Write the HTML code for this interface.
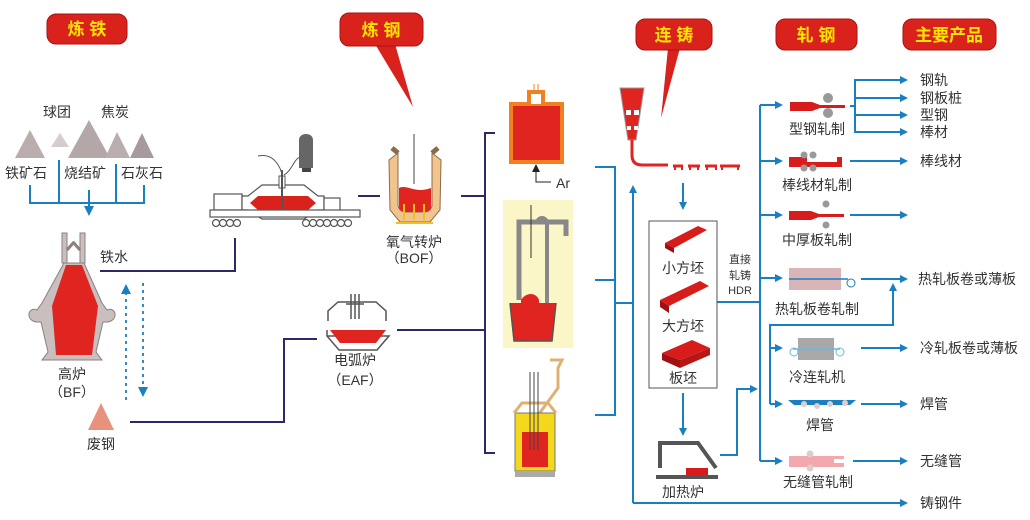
<!DOCTYPE html>
<html><head><meta charset="utf-8"><style>
html,body{margin:0;padding:0;background:#fff;}
svg{display:block;}
text{font-family:"Liberation Sans","Noto Sans CJK SC",sans-serif;fill:#333;}
.t{font-size:14px;}
.h{font-size:17px;font-weight:bold;fill:#ffe600;}
</style></head><body>
<svg width="1030" height="520" viewBox="0 0 1030 520" xmlns="http://www.w3.org/2000/svg">
<defs>
<marker id="a" markerWidth="8" markerHeight="8" refX="6" refY="4" orient="auto" markerUnits="userSpaceOnUse"><path d="M0,0 L8,4 L0,8 Z" fill="#1a7fc1"/></marker>
<marker id="ab" markerWidth="10" markerHeight="10" refX="8" refY="5" orient="auto" markerUnits="userSpaceOnUse"><path d="M0,0 L10,5 L0,10 Z" fill="#1a7fc1"/></marker>
</defs>
<rect width="1030" height="520" fill="#fff"/>

<!-- headers -->
<rect x="47" y="14" width="80" height="30" rx="9" fill="#d9221c" stroke="#a11" />
<text x="87" y="35" class="h" text-anchor="middle">炼 铁</text>
<path d="M375,44 L413,107 L395,44 Z" fill="#d9221c"/>
<rect x="340" y="13" width="83" height="33" rx="9" fill="#d9221c" stroke="#a11"/>
<text x="381" y="36" class="h" text-anchor="middle">炼 钢</text>
<path d="M668,48 L661,118 L680,48 Z" fill="#d9221c"/>
<rect x="636" y="19" width="76" height="31" rx="9" fill="#d9221c" stroke="#a11"/>
<text x="674" y="41" class="h" text-anchor="middle">连 铸</text>
<rect x="776" y="19" width="81" height="31" rx="9" fill="#d9221c" stroke="#a11"/>
<text x="816" y="41" class="h" text-anchor="middle">轧 钢</text>
<rect x="903" y="19" width="93" height="31" rx="9" fill="#d9221c" stroke="#a11"/>
<text x="949" y="41" class="h" text-anchor="middle">主要产品</text>

<!-- raw materials -->
<text x="43" y="117" class="t">球团</text>
<text x="101" y="117" class="t">焦炭</text>
<polygon points="15,158 30,130 45,158" fill="#b9adad"/>
<polygon points="51,147 60,133 69,147" fill="#d5cccc"/>
<polygon points="68,158 89,120 110,158" fill="#b3a7a8"/>
<polygon points="105,158 117,132 130,158" fill="#b9adad"/>
<polygon points="130,158 142,133 154,158" fill="#a79a9c"/>
<text x="5" y="178" class="t">铁矿石</text>
<text x="64" y="178" class="t">烧结矿</text>
<text x="121" y="178" class="t">石灰石</text>
<g stroke="#1a7fc1" stroke-width="2" fill="none">
<path d="M30,185 V203 H144 V185 M59,160 V203 M116,164 V203"/>
<path d="M89,190 V214" marker-end="url(#ab)"/>
</g>

<!-- blast furnace -->
<g fill="#c9bfbf" stroke="#8a8080" stroke-width="1">
<path d="M62,233 h5 v30 h-5z M80,233 h5 v30 h-5z"/>
<path d="M67,250 l7,-8 M80,250 l-7,-8" stroke-width="3"/>
<path d="M64,263 h20 l18,40 l5,7 c9,-4 12,10 1,12 l-5,0 l-7,30 l6,8 h-60 l6,-8 l-7,-30 l-5,0 c-11,-2 -8,-16 1,-12 l5,-7 z"/>
</g>
<polygon points="66,265 82,265 98,306 92,355 56,355 52,306" fill="#e02420"/>
<text x="72" y="379" class="t" text-anchor="middle">高炉</text>
<text x="72" y="397" class="t" text-anchor="middle">（BF）</text>
<polygon points="88,430 101,403 114,430" fill="#e8917c"/>
<text x="101" y="449" class="t" text-anchor="middle">废钢</text>
<text x="100" y="262" class="t">铁水</text>
<g stroke="#1a7fc1" stroke-width="1.8" stroke-dasharray="3,4" fill="none">
<path d="M126,400 V293"/><path d="M143,283 V390"/>
</g>
<polygon points="121,294 126,284 131,294" fill="#1a7fc1"/>
<polygon points="138,387 143,397 148,387" fill="#1a7fc1"/>

<!-- navy lines -->
<g stroke="#2a2a6a" stroke-width="2" fill="none">
<path d="M100,271 H235 V238"/>
<path d="M130,422 H284 V339 H317"/>
<path d="M358,196 H380 M461,196 H485 M397,330 H485"/>
<path d="M495,133 H485 V453 H495"/>
</g>

<!-- torpedo car -->
<g stroke="#555" stroke-width="1.2" fill="#fff">
<rect x="214" y="194" width="28" height="16"/>
<path d="M242,196 h6 l14,-11 h42 l14,11 h6 v14 h-6 l-14,9 h-42 l-14,-9 h-6 z"/>
<rect x="324" y="198" width="16" height="14"/>
<rect x="210" y="210" width="150" height="7"/>
<circle cx="216" cy="223" r="3.5"/><circle cx="223" cy="223" r="3.5"/><circle cx="230" cy="223" r="3.5"/><circle cx="237" cy="223" r="3.5"/>
<circle cx="306" cy="223" r="3.5"/><circle cx="313" cy="223" r="3.5"/><circle cx="320" cy="223" r="3.5"/><circle cx="327" cy="223" r="3.5"/><circle cx="334" cy="223" r="3.5"/><circle cx="341" cy="223" r="3.5"/><circle cx="348" cy="223" r="3.5"/>
</g>
<polygon points="250,203 258,196 308,196 316,203 308,210 258,210" fill="#d9221c"/>
<rect x="279" y="176" width="6" height="12" fill="#fff" stroke="#555"/>
<line x1="282" y1="170" x2="282" y2="209" stroke="#555" stroke-width="2"/>
<path d="M258,156 c20,-4 25,20 24,20 M284,175 c10,-6 10,-20 20,-18" stroke="#555" fill="none"/>
<path d="M299,140 c0,-8 14,-8 14,0 v28 h-14 z" fill="#666"/>
<rect x="302" y="168" width="9" height="4" fill="#444"/>

<!-- BOF -->
<path d="M389,160 L398,153 V206 Q400,212 406,212 H424 Q430,212 432,206 V153 L441,160 L440,210 L430,222 H400 L390,210 Z" fill="#f1c48e" stroke="#8a6b4a"/>
<path d="M398,153 L392,148 M432,153 L438,148" stroke="#8a6b4a" stroke-width="5"/>
<path d="M399,188 c8,-4 16,6 32,0 v18 q0,6 -6,6 h-20 q-6,0 -6,-6 z" fill="#e02420"/>
<line x1="414" y1="134" x2="414" y2="184" stroke="#444"/>
<g stroke="#f0c020" stroke-width="2"><path d="M404,204 V220 M414,204 V220 M424,204 V220 M396,223 H433"/></g>
<text x="414" y="247" class="t" text-anchor="middle">氧气转炉</text>
<text x="414" y="263" class="t" text-anchor="middle">（BOF）</text>

<!-- EAF -->
<g stroke="#555" fill="#fff" stroke-width="1.5">
<path d="M328,321 v-10 l10,-9 h38 l10,9 v10"/>
<path d="M327,330 v6 l12,14 h38 l12,-14 h-62" />
<path d="M330,330 l10,13 h36 l10,-13 h-56z" fill="#e02420" stroke="none"/>
<path d="M351,294 v25 M355,294 v25 M359,294 v25 M346,304 h18"/>
</g>
<text x="355" y="365" class="t" text-anchor="middle">电弧炉</text>
<text x="355" y="385" class="t" text-anchor="middle">（EAF）</text>

<!-- ladle Ar -->
<rect x="511" y="104" width="51" height="58" fill="#e02420" stroke="#f08020" stroke-width="4"/>
<rect x="527" y="90" width="18" height="14" fill="#f08020"/><rect x="531" y="94" width="10" height="10" fill="#fff"/>
<path d="M534,84 v8 M538,84 v8" stroke="#f08020"/>
<path d="M551,182 H536 V170" stroke="#222" fill="none"/><polygon points="532,172 536,164 540,172" fill="#222"/>
<text x="556" y="188" class="t">Ar</text>

<!-- RH -->
<rect x="503" y="200" width="70" height="148" fill="#fbf6c8"/>
<path d="M519,300 V222 H566 V236" stroke="#888" stroke-width="5" fill="none"/>
<path d="M547,305 V224 c0,-8 -10,-8 -10,0" stroke="#888" stroke-width="4" fill="none"/>
<line x1="531" y1="205" x2="531" y2="258" stroke="#333"/>
<path d="M510,303 l4,38 h38 l4,-38" fill="#e02420" stroke="#555" stroke-width="1.5"/>
<path d="M521,300 c5,-8 15,-8 18,0 v16 h-18z" fill="#e02420"/>

<!-- ladle 3 -->
<path d="M550,360 h12 l-4,8 v20 l-22,30" stroke="#e0b070" stroke-width="3" fill="none"/>
<rect x="515" y="413" width="40" height="58" fill="#f4d81c" stroke="#777"/>
<rect x="522" y="432" width="26" height="35" fill="#e02420"/>
<path d="M514,413 l8,-10 h26 l8,10" stroke="#e0b070" stroke-width="3" fill="none"/>
<path d="M530,372 V450 M534,372 V450 M538,372 V450" stroke="#444"/>
<rect x="515" y="471" width="40" height="6" fill="#aaa"/>

<!-- blue system -->
<g stroke="#1a7fc1" stroke-width="2" fill="none">
<path d="M595,167 H615 V415 H595 M595,280 H615 M615,303 H633"/>
<path d="M633,503 H906" marker-end="url(#a)"/>
<path d="M633,503 V187" marker-end="url(#a)"/>
<path d="M683,183 V208" marker-end="url(#a)"/>
<path d="M683,393 V434" marker-end="url(#a)"/>
<path d="M717,302 H760"/>
<path d="M760,105 V461"/>
<path d="M760,105 H781" marker-end="url(#a)"/>
<path d="M760,161 H781" marker-end="url(#a)"/>
<path d="M760,215 H781" marker-end="url(#a)"/>
<path d="M760,278 H781" marker-end="url(#a)"/>
<path d="M760,461 H781" marker-end="url(#a)"/>
<path d="M770,404 V325 H893 V285" marker-end="url(#a)"/>
<path d="M770,348 H781" marker-end="url(#a)"/>
<path d="M770,404 H781" marker-end="url(#a)"/>
<path d="M720,455 H737 V389 H756" marker-end="url(#a)"/>
<path d="M850,106 H855 V80 H906 M855,98 H906 M855,115 H906 M855,106 V132 H906"/>
<path d="M855,80 H906" marker-end="url(#a)"/>
<path d="M855,98 H906" marker-end="url(#a)"/>
<path d="M855,115 H906" marker-end="url(#a)"/>
<path d="M855,132 H906" marker-end="url(#a)"/>
<path d="M850,161 H906" marker-end="url(#a)"/>
<path d="M850,215 H906" marker-end="url(#a)"/>
<path d="M861,279 H906" marker-end="url(#a)"/>
<path d="M861,348 H906" marker-end="url(#a)"/>
<path d="M861,404 H906" marker-end="url(#a)"/>
<path d="M853,461 H906" marker-end="url(#a)"/>
</g>

<!-- caster -->
<polygon points="620,88 644,88 636,140 628,140" fill="#e02420" stroke="#999"/>
<rect x="626" y="110" width="5" height="5" fill="#fff"/><rect x="634" y="110" width="5" height="5" fill="#fff"/>
<rect x="627" y="126" width="4" height="4" fill="#fff"/><rect x="634" y="126" width="4" height="4" fill="#fff"/>
<path d="M632,140 V155 q0,10 10,10 H668" stroke="#e02420" stroke-width="3" fill="none"/>
<path d="M673,166 h10 M688,166 h12 M705,166 h12 M720,166 h20" stroke="#e02420" stroke-width="3"/>
<path d="M675,166 v4 M682,166 v4 M690,166 v4 M698,166 v4 M707,166 v4 M716,166 v4 M722,166 v4 M738,166 v4" stroke="#e02420" stroke-width="2"/>

<!-- billet box -->
<rect x="649" y="221" width="68" height="167" fill="#fff" stroke="#555"/>
<polygon points="665,243 698,226 707,230 674,248" fill="#d81c1c"/><polygon points="665,243 674,248 674,253 665,248" fill="#a01010"/>
<text x="683" y="273" class="t" text-anchor="middle">小方坯</text>
<polygon points="660,300 700,281 709,286 669,306" fill="#d81c1c"/><polygon points="660,300 669,306 669,313 660,307" fill="#a01010"/>
<text x="683" y="331" class="t" text-anchor="middle">大方坯</text>
<polygon points="662,353 692,340 710,348 680,360" fill="#d81c1c"/><polygon points="662,353 680,360 680,368 662,360" fill="#a01010"/><polygon points="680,360 710,348 710,355 680,368" fill="#b81515"/>
<text x="683" y="383" class="t" text-anchor="middle">板坯</text>
<text x="740" y="263" font-size="11" text-anchor="middle">直接</text>
<text x="740" y="279" font-size="11" text-anchor="middle">轧铸</text>
<text x="740" y="294" font-size="11" text-anchor="middle">HDR</text>

<!-- heating furnace -->
<path d="M660,468 V443 H698 L716,468" stroke="#555" stroke-width="4" fill="none"/>
<rect x="656" y="475" width="62" height="4" fill="#555"/>
<rect x="686" y="468" width="22" height="7" fill="#d81c1c"/>
<text x="683" y="497" class="t" text-anchor="middle">加热炉</text>

<!-- rolling icons -->
<path d="M790,102 h22 l8,3 h25 v3 h-25 l-8,3 h-22z" fill="#d81c1c"/>
<circle cx="828" cy="98" r="5" fill="#999"/><circle cx="828" cy="113" r="5" fill="#999"/>
<text x="817" y="134" class="t" text-anchor="middle">型钢轧制</text>
<path d="M789,157 h18 v5 h30 v-5 h5 v10 h-5 h-30 h-18z" fill="#d81c1c"/>
<circle cx="804" cy="155" r="3.5" fill="#999"/><circle cx="813" cy="155" r="3.5" fill="#999"/><circle cx="804" cy="168" r="3.5" fill="#999"/><circle cx="813" cy="168" r="3.5" fill="#999"/>
<text x="817" y="190" class="t" text-anchor="middle">棒线材轧制</text>
<path d="M789,211 h22 l8,3 h25 v3 h-25 l-8,3 h-22z" fill="#d81c1c"/>
<circle cx="826" cy="204" r="3.5" fill="#999"/><circle cx="826" cy="225" r="3.5" fill="#999"/>
<text x="817" y="245" class="t" text-anchor="middle">中厚板轧制</text>
<rect x="789" y="268" width="52" height="22" fill="#d9b5b8"/>
<path d="M789,279 H848" stroke="#1a7fc1" stroke-width="1.5"/>
<circle cx="851" cy="283" r="4" fill="none" stroke="#1a7fc1"/>
<text x="817" y="314" class="t" text-anchor="middle">热轧板卷轧制</text>
<rect x="798" y="338" width="36" height="22" fill="#a8a8a8"/>
<path d="M793,349 H840" stroke="#6ab8e0" stroke-width="1.5"/>
<circle cx="794" cy="352" r="4" fill="none" stroke="#6ab8e0"/><circle cx="840" cy="352" r="4" fill="none" stroke="#6ab8e0"/>
<text x="817" y="382" class="t" text-anchor="middle">冷连轧机</text>
<path d="M788,400 h68 l-6,5 h-56z" fill="#1a7fc1"/>
<circle cx="804" cy="404" r="3" fill="#dcc"/><circle cx="817" cy="406" r="3" fill="#dcc"/><circle cx="830" cy="404" r="3" fill="#dcc"/><circle cx="845" cy="403" r="3" fill="#dcc"/>
<text x="820" y="430" class="t" text-anchor="middle">焊管</text>
<rect x="789" y="456" width="55" height="11" fill="#f2a8ac"/>
<circle cx="810" cy="454" r="3.5" fill="#dcc"/><circle cx="810" cy="468" r="3.5" fill="#dcc"/>
<rect x="834" y="459" width="10" height="4" fill="#fff"/>
<text x="818" y="487" class="t" text-anchor="middle">无缝管轧制</text>

<!-- products -->
<text x="920" y="85" class="t">钢轨</text>
<text x="920" y="103" class="t">钢板桩</text>
<text x="920" y="120" class="t">型钢</text>
<text x="920" y="137" class="t">棒材</text>
<text x="920" y="166" class="t">棒线材</text>
<text x="918" y="284" class="t">热轧板卷或薄板</text>
<text x="920" y="353" class="t">冷轧板卷或薄板</text>
<text x="920" y="409" class="t">焊管</text>
<text x="920" y="466" class="t">无缝管</text>
<text x="920" y="508" class="t">铸钢件</text>
</svg>
</body></html>
